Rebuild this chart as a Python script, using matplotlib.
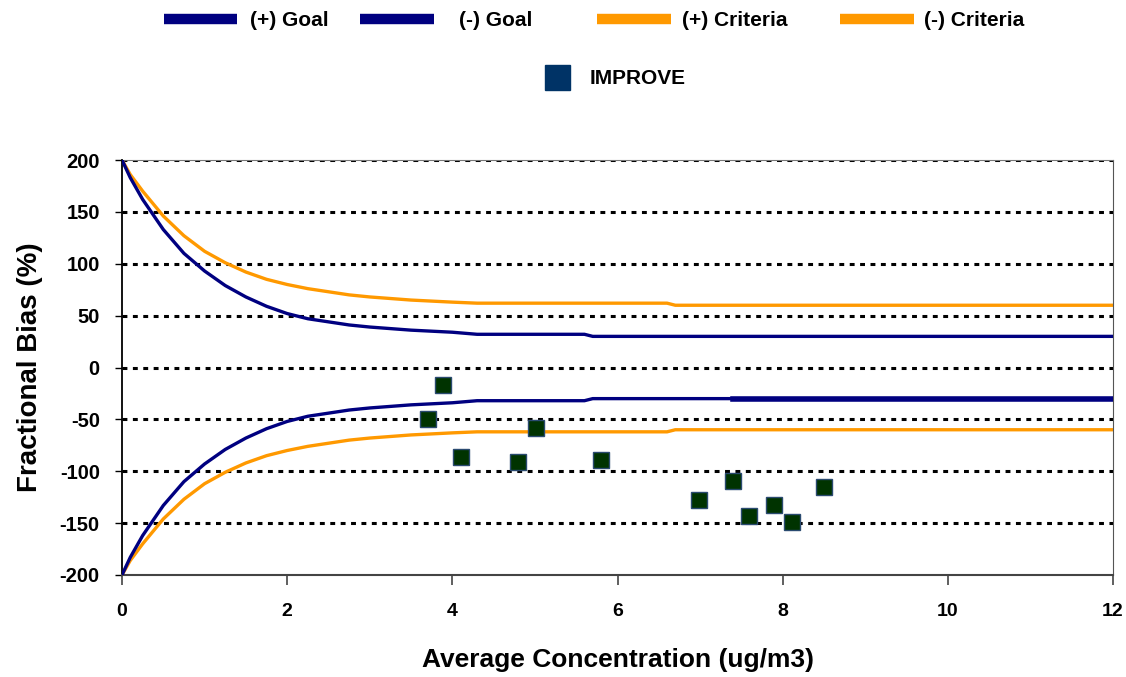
import matplotlib.pyplot as plt
from matplotlib.lines import Line2D

# goal / criteria curves
conc = [0, 0.1, 0.25, 0.5, 0.75, 1.0, 1.25, 1.5, 1.75, 2.0, 2.25, 2.5, 2.75, 3.0,
        3.5, 4.0, 4.3, 5.6, 5.7, 6.6, 6.7, 7.4, 12]
goal_pos = [200, 183, 162, 133, 110, 93, 79, 68, 59, 52, 47, 44, 41, 39,
            36, 34, 32, 32, 30, 30, 30, 30, 30]
crit_pos = [200, 186, 170, 146, 127, 112, 101, 92, 85, 80, 76, 73, 70, 68,
            65, 63, 62, 62, 62, 62, 60, 60, 60]
goal_neg = [-v for v in goal_pos]
crit_neg = [-v for v in crit_pos]

# IMPROVE sites
improve_x = [3.89, 3.71, 4.10, 4.80, 5.01, 5.80, 6.99, 7.40, 7.59, 7.89, 8.11, 8.50]
improve_y = [-17, -50, -86, -91, -58, -89, -128, -109, -143, -133, -149, -115]

navy = '#000080'
orange = '#FF9900'

plt.rcParams['font.family'] = ['Liberation Sans', 'DejaVu Sans']
plt.rcParams['font.weight'] = 'bold'
plt.rcParams['axes.unicode_minus'] = False

W, H = 1126, 677
fig = plt.figure(figsize=(W / 100, H / 100), dpi=100)
ax = fig.add_axes([122 / W, 1 - 575 / H, (1113 - 122) / W, (575 - 160) / H])

for y in range(-150, 201, 50):
    ax.axhline(y, color='black', lw=2.2, ls=(0, (1.6, 1.8)), zorder=1)

ax.plot(conc, goal_pos, color=navy, lw=2.4, zorder=3)
ax.plot(conc, goal_neg, color=navy, lw=2.4, zorder=3)
# heavier stretch of the (-) goal line on the right
tail = [i for i, c in enumerate(conc) if c >= 7.4]
ax.plot([conc[i] for i in tail], [goal_neg[i] for i in tail], color=navy, lw=4, zorder=3)
ax.plot(conc, crit_pos, color=orange, lw=2.4, zorder=2)
ax.plot(conc, crit_neg, color=orange, lw=2.4, zorder=2)
ax.plot(improve_x, improve_y, ls='none', marker='s', ms=12,
        mfc='#003300', mec='#2A4A70', mew=1.0, zorder=4)

ax.set_xlim(0, 12)
ax.set_ylim(-200, 200)
ax.set_xticks(range(0, 13, 2))
ax.set_yticks(range(-200, 201, 50))
ax.tick_params(axis='y', direction='out', length=5, width=1, labelsize=14.5, pad=11)
ax.tick_params(axis='x', direction='out', length=7, width=1.2, labelsize=14, pad=13,
               color='#444444')
for lab in ax.get_xticklabels() + ax.get_yticklabels():
    lab.set_fontweight('bold')

ax.spines['top'].set_color('#777777')
ax.spines['right'].set_color('#555555')
ax.spines['left'].set_linewidth(1.3)
ax.spines['bottom'].set_linewidth(1.5)
ax.spines['bottom'].set_color('#444444')

ax.set_xlabel('Average Concentration (ug/m3)', fontsize=19, fontweight='bold', labelpad=20)
ax.set_ylabel('Fractional Bias (%)', fontsize=20, fontweight='bold', labelpad=12)


# legend drawn in figure pixels to match the original spacing
def legend_line(x0, x1, y, color, text, tx):
    fig.add_artist(Line2D([x0 / W, x1 / W], [1 - y / H, 1 - y / H],
                          transform=fig.transFigure, color=color, lw=7.5,
                          solid_capstyle='butt'))
    fig.text(tx / W, 1 - y / H, text, fontsize=15, fontweight='bold',
             ha='left', va='center_baseline')


legend_line(164, 237, 19, navy, '(+) Goal', 250)
legend_line(360, 434, 19, navy, '(-) Goal', 459)
legend_line(597, 671, 19, orange, '(+) Criteria', 682)
legend_line(840, 914, 19, orange, '(-) Criteria', 924)

fig.add_artist(Line2D([557 / W], [1 - 77 / H], transform=fig.transFigure, ls='none',
                      marker='s', ms=18, mfc='#003366', mec='#003366'))
fig.text(590 / W, 1 - 77 / H, 'IMPROVE', fontsize=15, fontweight='bold',
         ha='left', va='center_baseline')

fig.savefig('out.png', dpi=100)
